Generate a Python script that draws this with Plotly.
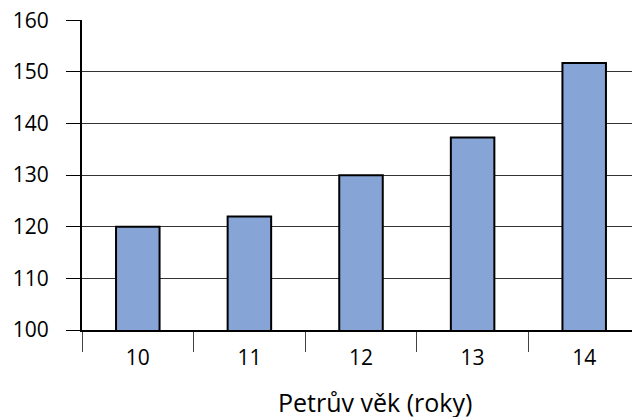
import plotly.graph_objects as go

categories = ["10", "11", "12", "13", "14"]
values = [120, 122, 130, 137.3, 151.7]
y_ticks = [100, 110, 120, 130, 140, 150, 160]
x_title = "Petrův věk (roky)"

fig = go.Figure(go.Bar(
    x=categories, y=values, width=0.39,
    marker=dict(color="#86A4D6", line=dict(color="black", width=2)),
))

font_family = "Open Sans, Noto Sans, sans-serif"
# page body has an 8px margin, so the figure is sized/offset to compensate
fig.update_layout(
    width=632, height=409,
    margin=dict(l=74, r=0, t=12, b=87, autoexpand=False),
    paper_bgcolor="white", plot_bgcolor="white",
    showlegend=False,
    font=dict(family=font_family, size=21, color="black"),
)
fig.update_xaxes(
    type="category", tickson="boundaries", ticks="outside", ticklen=20,
    tickwidth=1, tickcolor="#444", showgrid=False,
    showline=True, linecolor="black", linewidth=2,
    tickfont=dict(size=21), automargin=False, ticklabelstandoff=8,
)
fig.update_yaxes(
    range=[100, 160.05], tickvals=y_ticks, ticks="outside", ticklen=14,
    tickcolor="black", tickwidth=1,
    showgrid=True, gridcolor="#333", gridwidth=1,
    showline=True, linecolor="black", linewidth=2,
    zeroline=False, tickfont=dict(size=21), automargin=False,
    ticklabelstandoff=13, ticklabeloverflow="allow",
)
fig.add_annotation(
    text=x_title, xref="paper", yref="paper", x=0.525, y=0,
    yshift=-72, showarrow=False, yanchor="middle",
    font=dict(size=25, family=font_family),
)
fig.write_html("out.html")
